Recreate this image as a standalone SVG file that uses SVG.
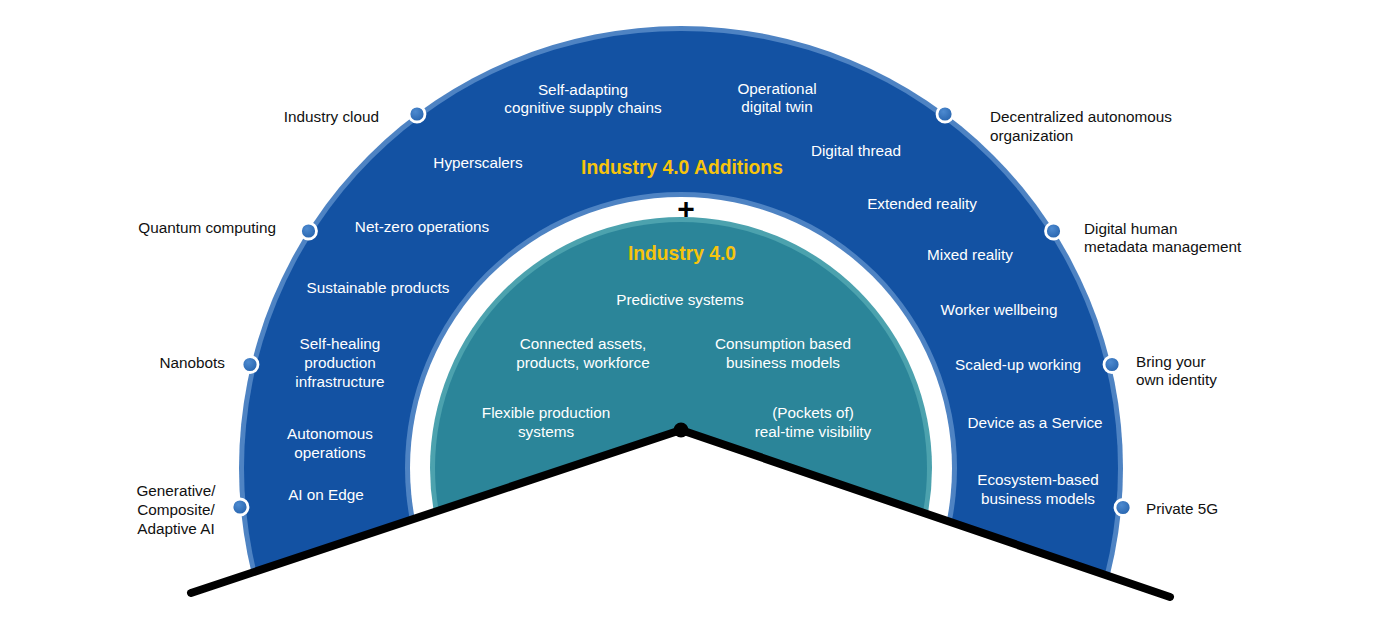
<svg xmlns="http://www.w3.org/2000/svg" width="1400" height="628" viewBox="0 0 1400 628">
<style>
  text { font-family: "Liberation Sans", Arial, Helvetica, sans-serif; font-size: 15.3px; }
  .w { fill: #ffffff; text-anchor: middle; }
  .k { fill: #111111; }
  .e { text-anchor: end; }
  .m { text-anchor: middle; }
  .g { fill: #f7c40c; font-weight: bold; font-size: 19.3px; text-anchor: middle; }
  .dot { fill: url(#dotGrad); stroke: #ffffff; stroke-width: 2.8; }
</style>
<defs>
  <clipPath id="above">
    <polygon points="0,0 1400,0 1400,676 681,430 0,659"/>
  </clipPath>
  <radialGradient id="dotGrad" cx="0.4" cy="0.35" r="0.7">
    <stop offset="0" stop-color="#4d8ad0"/>
    <stop offset="1" stop-color="#2461ab"/>
  </radialGradient>
</defs>

<g id="rings" clip-path="url(#above)">
  <circle cx="681" cy="468" r="442" fill="#4e83c3"/>
  <circle cx="681" cy="468" r="437" fill="#1352a3"/>
  <circle cx="681" cy="468" r="276" fill="#4e83c3"/>
  <circle cx="681" cy="468" r="271" fill="#ffffff"/>
  <circle cx="681" cy="468" r="251" fill="#4ca2ae"/>
  <circle cx="681" cy="468" r="246" fill="#2b8599"/>
</g>

<g id="connectors">
  <polyline points="191,593 681,430 1170,597" fill="none" stroke="#000000" stroke-width="8" stroke-linecap="round" stroke-linejoin="round"/>
  <circle cx="681" cy="430" r="7.5" fill="#000000"/>
</g>

<g id="plus"><text x="686" y="219" class="m" style="font-size:30px;font-weight:bold;fill:#000">+</text></g>

<g id="outer-additions">
  <text x="682" y="174" class="g">Industry 4.0 Additions</text>
  <g id="n-self-adapting"><text x="583" y="95" class="w">Self-adapting</text><text x="583" y="113" class="w">cognitive supply chains</text></g>
  <g id="n-operational-twin"><text x="777" y="94" class="w">Operational</text><text x="777" y="112" class="w">digital twin</text></g>
  <g id="n-hyperscalers"><text x="478" y="168" class="w">Hyperscalers</text></g>
  <g id="n-digital-thread"><text x="856" y="156" class="w">Digital thread</text></g>
  <g id="n-extended-reality"><text x="922" y="209" class="w">Extended reality</text></g>
  <g id="n-net-zero"><text x="422" y="232" class="w">Net-zero operations</text></g>
  <g id="n-mixed-reality"><text x="970" y="260" class="w">Mixed reality</text></g>
  <g id="n-sustainable"><text x="378" y="293" class="w">Sustainable products</text></g>
  <g id="n-worker-wellbeing"><text x="999" y="315" class="w">Worker wellbeing</text></g>
  <g id="n-self-healing"><text x="340" y="349" class="w">Self-healing</text><text x="340" y="368" class="w">production</text><text x="340" y="387" class="w">infrastructure</text></g>
  <g id="n-scaled-up"><text x="1018" y="370" class="w">Scaled-up working</text></g>
  <g id="n-autonomous"><text x="330" y="439" class="w">Autonomous</text><text x="330" y="458" class="w">operations</text></g>
  <g id="n-device-service"><text x="1035" y="428" class="w">Device as a Service</text></g>
  <g id="n-ai-edge"><text x="326" y="500" class="w">AI on Edge</text></g>
  <g id="n-ecosystem"><text x="1038" y="485" class="w">Ecosystem-based</text><text x="1038" y="504" class="w">business models</text></g>
</g>

<g id="inner-industry40">
  <text x="682" y="260" class="g">Industry 4.0</text>
  <g id="n-predictive"><text x="680" y="305" class="w">Predictive systems</text></g>
  <g id="n-connected"><text x="583" y="349" class="w">Connected assets,</text><text x="583" y="368" class="w">products, workforce</text></g>
  <g id="n-consumption"><text x="783" y="349" class="w">Consumption based</text><text x="783" y="368" class="w">business models</text></g>
  <g id="n-flexible"><text x="546" y="418" class="w">Flexible production</text><text x="546" y="437" class="w">systems</text></g>
  <g id="n-pockets"><text x="813" y="418" class="w">(Pockets of)</text><text x="813" y="437" class="w">real-time visibility</text></g>
</g>

<g id="emerging">
  <g id="n-industry-cloud"><circle cx="417" cy="114" r="8" class="dot"/><text x="379" y="122" class="k e">Industry cloud</text></g>
  <g id="n-quantum"><circle cx="308.5" cy="231" r="8" class="dot"/><text x="276" y="233" class="k e">Quantum computing</text></g>
  <g id="n-nanobots"><circle cx="250" cy="364.5" r="8" class="dot"/><text x="225" y="368" class="k e">Nanobots</text></g>
  <g id="n-generative"><circle cx="240" cy="507" r="8" class="dot"/><text x="176" y="496" class="k m">Generative/</text><text x="176" y="515" class="k m">Composite/</text><text x="176" y="534" class="k m">Adaptive AI</text></g>
  <g id="n-dao"><circle cx="945" cy="114" r="8" class="dot"/><text x="990" y="122" class="k">Decentralized autonomous</text><text x="990" y="141" class="k">organization</text></g>
  <g id="n-digital-human"><circle cx="1053.5" cy="231" r="8" class="dot"/><text x="1084" y="234" class="k">Digital human</text><text x="1084" y="252" class="k">metadata management</text></g>
  <g id="n-byoi"><circle cx="1112" cy="364.5" r="8" class="dot"/><text x="1136" y="367" class="k">Bring your</text><text x="1136" y="385" class="k">own identity</text></g>
  <g id="n-private5g"><circle cx="1123" cy="507.5" r="8" class="dot"/><text x="1146" y="514" class="k">Private 5G</text></g>
</g>
</svg>
